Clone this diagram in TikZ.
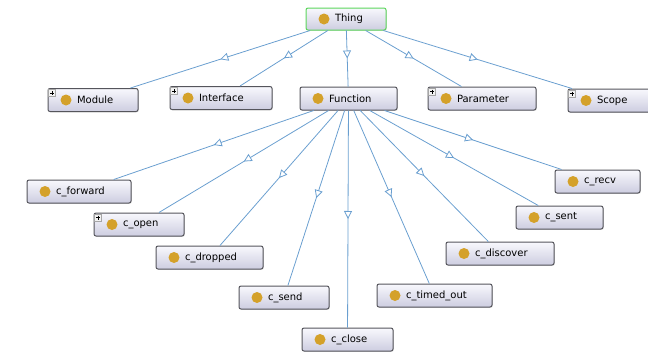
\documentclass[tikz,border=0pt]{standalone}
\usepackage{fontspec}
\setmainfont{DejaVu Sans}
\usetikzlibrary{arrows.meta,decorations.markings,shadows}

\definecolor{edgec}{HTML}{6A9FD0}
\definecolor{dotc}{HTML}{D4A12A}
\definecolor{boxtop}{HTML}{F8F8FD}
\definecolor{boxbot}{HTML}{CDCDE0}
\definecolor{boxline}{HTML}{55555C}
\definecolor{rootline}{HTML}{5CD65C}

\tikzset{
  cls/.style={rectangle, rounded corners=2pt, draw=boxline, line width=1pt,
    top color=boxtop, bottom color=boxbot, minimum height=23pt,
    inner xsep=0pt, inner ysep=0pt, text width=#1, align=left,
    font=\fontsize{10}{12}\selectfont,
    drop shadow={shadow xshift=0.8pt, shadow yshift=-0.8pt, opacity=0.25},
    path picture={\fill[dotc] ([xshift=18pt]path picture bounding box.west) circle (5.5pt);}},
  rootcls/.style={cls=#1, draw=rootline, minimum height=22pt},
  plusicon/.style={rectangle, draw=gray!70, fill=gray!10, line width=0.5pt,
    minimum size=7pt, inner sep=0pt,
    path picture={\draw[black, line width=0.6pt]
      ([xshift=1.5pt]path picture bounding box.west) -- ([xshift=-1.5pt]path picture bounding box.east)
      ([yshift=-1.5pt]path picture bounding box.north) -- ([yshift=1.5pt]path picture bounding box.south);}},
  isa/.style={draw=edgec, line width=0.8pt, postaction={decorate},
    decoration={markings, mark=at position 0.5 with
      {\arrow[edgec, line width=0.8pt]{Triangle[length=8pt, width=8pt, fill=white]}}}}
}

\newcommand{\lbl}[1]{\hspace*{29pt}#1}

\begin{document}
\begin{tikzpicture}[x=1pt, y=-1pt]
  \useasboundingbox (0,0) rectangle (648,354);
  \clip (0,0) rectangle (648,354);

  % class boxes
  \node[rootcls=80pt] (thing) at (346,19) {\lbl{Thing}};

  \node[cls=90pt]  (module)    at (93,100)    {\lbl{Module}};
  \node[cls=102pt] (interface) at (221,98)    {\lbl{Interface}};
  \node[cls=97pt]  (function)  at (348.5,98.5) {\lbl{Function}};
  \node[cls=108pt] (parameter) at (482,98.5)  {\lbl{Parameter}};
  \node[cls=86pt]  (scope)     at (611,100.5) {\lbl{Scope}};

  \node[cls=104pt] (cforward)  at (79,191.5)   {\lbl{c\_forward}};
  \node[cls=90pt]  (copen)     at (139,224.5)  {\lbl{c\_open}};
  \node[cls=107pt] (cdropped)  at (209.5,257.5) {\lbl{c\_dropped}};
  \node[cls=90pt]  (csend)     at (284,297.5)  {\lbl{c\_send}};
  \node[cls=91pt]  (cclose)    at (347.5,339.5) {\lbl{c\_close}};
  \node[cls=115pt] (ctimedout) at (434.5,295.5) {\lbl{c\_timed\_out}};
  \node[cls=108pt] (cdiscover) at (500,253.5)  {\lbl{c\_discover}};
  \node[cls=87pt]  (csent)     at (559.5,217.5) {\lbl{c\_sent}};
  \node[cls=85pt]  (crecv)     at (597.5,181.5) {\lbl{c\_recv}};

  % expand markers on classes with hidden subclasses
  \node[plusicon] (pmodule)    at ([xshift=4.5pt,yshift=-5pt]module.north west) {};
  \node[plusicon] (pinterface) at ([xshift=4.5pt,yshift=-5pt]interface.north west) {};
  \node[plusicon] (pparameter) at ([xshift=4.5pt,yshift=-5pt]parameter.north west) {};
  \node[plusicon] (pscope)     at ([xshift=4.5pt,yshift=-5pt]scope.north west) {};
  \node[plusicon] (pcopen)     at ([xshift=4.5pt,yshift=-5pt]copen.north west) {};

  % subclass links
  \foreach \c in {module, interface, function, parameter, scope}
    \draw[isa] (thing) -- (\c);
  \foreach \c in {cforward, copen, cdropped, csend, cclose, ctimedout, cdiscover, csent, crecv}
    \draw[isa] (function) -- (\c);
\end{tikzpicture}
\end{document}
